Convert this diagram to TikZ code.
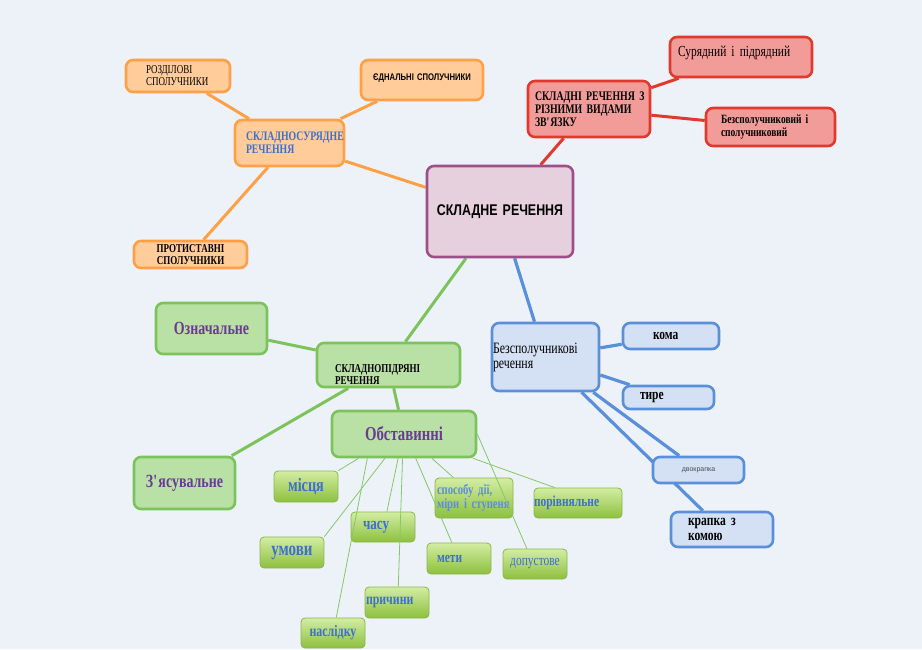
\documentclass[tikz,border=0pt]{standalone}
\usepackage{fontspec}
\setmainfont{Liberation Serif}[FakeStretch=0.75, WordSpace=0.75]
\setsansfont{Liberation Sans}[FakeStretch=0.8]
\newfontfamily\plainsans{Liberation Sans}
\usetikzlibrary{calc}

\definecolor{bgc}{HTML}{EDF2F9}
\definecolor{mainfill}{HTML}{E6D0DE}
\definecolor{mainline}{HTML}{9D4F8A}
\definecolor{orfill}{HTML}{FFCC9A}
\definecolor{orline}{HTML}{FFA046}
\definecolor{redfill}{HTML}{F19C99}
\definecolor{redline}{HTML}{E2392F}
\definecolor{grfill}{HTML}{B9E0A5}
\definecolor{grline}{HTML}{7CC35B}
\definecolor{bluefill}{HTML}{D4E1F5}
\definecolor{blueline}{HTML}{5A8FDB}
\definecolor{ltop}{HTML}{D3EDA3}
\definecolor{lbot}{HTML}{8DC03F}
\definecolor{lline}{HTML}{8AB64B}
\definecolor{thinc}{HTML}{86C865}
\definecolor{txblue}{HTML}{3E6FCD}
\definecolor{txlblue}{HTML}{5C8CDF}
\definecolor{txpurp}{HTML}{6B3A97}

\newcommand{\fsz}[2]{\fontsize{#1}{#2}\selectfont}

\pgfdeclarelayer{bg}
\pgfdeclarelayer{links}
\pgfsetlayers{bg,links,main}

\tikzset{
	box/.style={rounded corners=7pt, line width=2.6pt, inner ysep=0pt},
	mbox/.style={box, draw=mainline, fill=mainfill},
	obox/.style={box, draw=orline, fill=orfill},
	rbox/.style={box, draw=redline, fill=redfill},
	gbox/.style={box, draw=grline, fill=grfill},
	bbox/.style={box, draw=blueline, fill=bluefill},
	lbox/.style={rounded corners=4pt, line width=0.8pt, draw=lline, top color=ltop, bottom color=lbot, inner ysep=0pt, text=txblue},
	oline/.style={orline, line width=3pt},
	rline/.style={redline, line width=3pt},
	gline/.style={grline, line width=3pt},
	bline/.style={blueline, line width=3.2pt},
	thinln/.style={thinc, line width=0.8pt}
}

\begin{document}
\begin{tikzpicture}[x=1pt, y=-1pt]
	\useasboundingbox (0,0) rectangle (922,649);
	\begin{pgfonlayer}{bg}
		\fill[bgc] (0,0) rectangle (922,649);
	\end{pgfonlayer}

	% centre
	\node[mbox, minimum width=146pt, minimum height=91pt, inner xsep=4pt, text width=138pt, align=center, font=\sffamily\bfseries\fsz{15.5}{17}] (main) at (500,211.5) {СКЛАДНЕ~РЕЧЕННЯ};

	% складносурядні
	\node[obox, minimum width=104pt, minimum height=32pt, inner xsep=20pt, text width=64pt, align=left, font=\fsz{12}{12}] (rozd) at (178,76) {РОЗДІЛОВІ\\СПОЛУЧНИКИ};
	\node[obox, minimum width=122pt, minimum height=40pt, inner xsep=5pt, text width=112pt, align=center, text depth=6pt, font=\sffamily\bfseries\fsz{9.6}{11}] (yedn) at (422,80) {ЄДНАЛЬНІ~СПОЛУЧНИКИ};
	\node[obox, minimum width=109pt, minimum height=46pt, inner xsep=11pt, text width=87pt, align=left, text=txblue, font=\bfseries\fsz{13}{13}] (sosur) at (289.5,143) {СКЛАДНОСУРЯДНЕ\\РЕЧЕННЯ};
	\node[obox, minimum width=113pt, minimum height=27pt, inner xsep=4pt, text width=105pt, align=center, font=\bfseries\fsz{12}{12}] (protyst) at (190.5,254.5) {ПРОТИСТАВНІ\\СПОЛУЧНИКИ};

	% різні види зв'язку
	\node[rbox, minimum width=122pt, minimum height=56pt, inner xsep=7pt, text width=108pt, align=left, font=\bfseries\fsz{13.1}{13}] (rizni) at (589,109) {СКЛАДНІ~РЕЧЕННЯ~З\\РІЗНИМИ~ВИДАМИ\\ЗВ\textquotesingle ЯЗКУ};
	\node[rbox, minimum width=142pt, minimum height=40pt, inner xsep=8pt, text width=126pt, align=left, text depth=11pt, font=\fsz{15.3}{16}] (suryad) at (741,57) {Сурядний~і~підрядний};
	\node[rbox, minimum width=129pt, minimum height=38pt, inner xsep=15pt, text width=99pt, align=left, font=\bfseries\fsz{12.6}{12.5}] (bezspol) at (770.5,127) {Безсполучниковий~і\\сполучниковий};

	% складнопідрядні
	\node[gbox, minimum width=143pt, minimum height=44pt, inner xsep=18pt, text width=107pt, align=left, text height=27pt, font=\bfseries\fsz{12}{12.5}] (pidr) at (388.5,365) {СКЛАДНОПІДРЯНІ\\РЕЧЕННЯ};
	\node[gbox, minimum width=111pt, minimum height=51pt, inner xsep=4pt, text width=103pt, align=center, text=txpurp, font=\bfseries\fsz{18.6}{20}] (oznach) at (211.5,328.5) {Означальне};
	\node[gbox, minimum width=144pt, minimum height=46pt, inner xsep=4pt, text width=136pt, align=center, text=txpurp, font=\bfseries\fsz{19.7}{21}] (obst) at (404,434) {Обставинні};
	\node[gbox, minimum width=101pt, minimum height=52pt, inner xsep=4pt, text width=93pt, align=center, text=txpurp, font=\bfseries\fsz{18.6}{20}] (zyas) at (184.5,483) {З\textquotesingle ясувальне};

	% обставинні
	\node[lbox, minimum width=64pt, minimum height=31pt, inner xsep=2pt, text width=60pt, align=center, font=\bfseries\fsz{19}{20}] (mists) at (306,486.5) {місця};
	\node[lbox, minimum width=64pt, minimum height=31pt, inner xsep=2pt, text width=60pt, align=center, font=\bfseries\fsz{20}{21}] (umovy) at (292,552.5) {умови};
	\node[lbox, minimum width=64pt, minimum height=30pt, inner xsep=12pt, text width=40pt, align=left, font=\bfseries\fsz{17.5}{18}] (chasu) at (383,527) {часу};
	\node[lbox, minimum width=64pt, minimum height=30pt, inner xsep=2pt, text width=60pt, align=center, font=\bfseries\fsz{15.9}{17}] (naslid) at (333,633) {наслідку};
	\node[lbox, minimum width=64pt, minimum height=31pt, inner xsep=1pt, text width=62pt, align=left, font=\bfseries\fsz{15.8}{17}] (prychyn) at (397,602.5) {причини};
	\node[lbox, minimum width=78pt, minimum height=40pt, inner xsep=2pt, text width=74pt, align=left, text=txlblue, font=\bfseries\fsz{14.2}{14.5}] (sposib) at (474,498) {способу~дії,\\міри~і~ступеня};
	\node[lbox, minimum width=64pt, minimum height=31pt, inner xsep=10pt, text width=44pt, align=left, font=\bfseries\fsz{15.3}{16}] (mety) at (459,558.5) {мети};
	\node[lbox, minimum width=88pt, minimum height=30pt, inner xsep=0pt, text width=88pt, align=left, font=\bfseries\fsz{15.3}{16}] (porivn) at (578,503) {порівняльне};
	\node[lbox, minimum width=64pt, minimum height=30pt, inner xsep=2pt, text width=60pt, align=center, font=\fsz{15.3}{16}] (dopust) at (535,564) {допустове};

	% безсполучникові
	\node[bbox, minimum width=107pt, minimum height=68pt, inner xsep=1pt, text width=105pt, align=left, font=\fsz{15.8}{15}] (bezsp) at (545.5,357) {Безсполучникові\\речення};
	\node[bbox, minimum width=96pt, minimum height=26pt, inner xsep=30pt, text width=36pt, align=left, font=\bfseries\fsz{15.3}{16}] (koma) at (671,336) {кома};
	\node[bbox, minimum width=91pt, minimum height=23pt, inner xsep=17pt, text width=57pt, align=left, font=\bfseries\fsz{15.3}{16}] (tyre) at (668.5,397.5) {тире};
	\node[bbox, minimum width=91pt, minimum height=26pt, inner xsep=4pt, text width=83pt, align=center, text=black!70, font=\plainsans\fsz{7}{8}] (dvokr) at (698.5,470) {двокрапка};
	\node[bbox, minimum width=102pt, minimum height=35pt, inner xsep=17pt, text width=68pt, align=left, font=\bfseries\fsz{15.5}{15.5}] (krapka) at (722,529.5) {крапка~з\\комою};

	\begin{pgfonlayer}{links}
		\draw[oline] (main) -- (sosur);
		\draw[oline] (sosur) -- (rozd);
		\draw[oline] (sosur) -- (yedn);
		\draw[oline] (sosur) -- (protyst);
		\draw[rline] (main) -- (rizni);
		\draw[rline] (rizni) -- (suryad);
		\draw[rline] (rizni) -- (bezspol);
		\draw[gline] (main) -- (pidr);
		\draw[gline] (pidr) -- (oznach);
		\draw[gline] (pidr) -- (zyas);
		\draw[gline] (pidr) -- (obst);
		\draw[bline] (main) -- (bezsp);
		\draw[bline] (bezsp) -- (koma);
		\draw[bline] (bezsp) -- (tyre);
		\draw[bline] (bezsp) -- (dvokr);
		\draw[bline] (bezsp) -- (krapka);
	\end{pgfonlayer}

	% тонкі лінії поверх блоків
	\draw[thinln] ($(obst.south west)!0.19!(obst.south east)$) -- (mists.north east);
	\draw[thinln] ($(obst.south west)!0.37!(obst.south east)$) -- (umovy.north east);
	\draw[thinln] ($(obst.south west)!0.46!(obst.south east)$) -- ($(chasu.north west)!0.56!(chasu.north east)$);
	\draw[thinln] ($(obst.south west)!0.25!(obst.south east)$) -- ($(naslid.north west)!0.55!(naslid.north east)$);
	\draw[thinln] ($(obst.south west)!0.49!(obst.south east)$) -- ($(prychyn.north west)!0.52!(prychyn.north east)$);
	\draw[thinln] ($(obst.south west)!0.69!(obst.south east)$) -- ($(sposib.north west)!0.24!(sposib.north east)$);
	\draw[thinln] ($(obst.south west)!0.58!(obst.south east)$) -- ($(mety.north west)!0.39!(mety.north east)$);
	\draw[thinln] ($(obst.south west)!0.97!(obst.south east)$) -- ($(porivn.north west)!0.24!(porivn.north east)$);
	\draw[thinln] (obst.east) -- ($(dopust.north west)!0.375!(dopust.north east)$);
\end{tikzpicture}
\end{document}
